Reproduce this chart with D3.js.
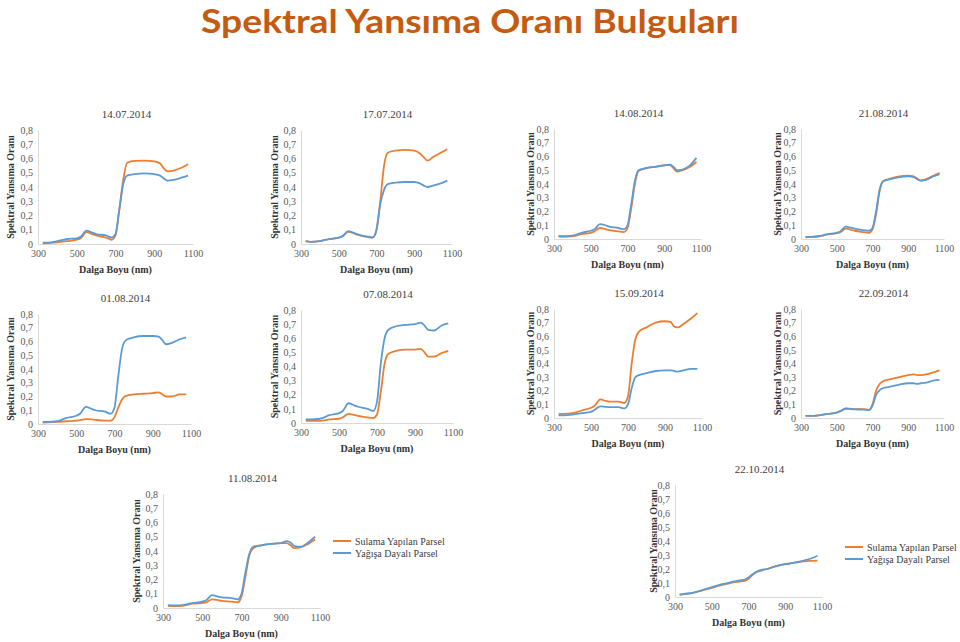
<!DOCTYPE html>
<html>
<head>
<meta charset="utf-8">
<script src="https://cdn.jsdelivr.net/npm/d3@7"></script>
<style>
  html, body { margin: 0; padding: 0; background: #ffffff; }
  svg { display: block; }
  .serif { font-family: "Liberation Serif", "DejaVu Serif", serif; }
</style>
</head>
<body>
<svg id="chart" width="960" height="642"></svg>
<script>
// ---------------- DATA ----------------
const mainTitle = "Spektral Yansıma Oranı Bulguları";
const seriesNames = ["Sulama Yapılan Parsel", "Yağışa Dayalı Parsel"];
const xTitle = "Dalga Boyu (nm)";
const yTitle = "Spektral Yansıma Oranı";
const xTicks = [300, 500, 700, 900, 1100];
const yTicks = [0, 0.1, 0.2, 0.3, 0.4, 0.5, 0.6, 0.7, 0.8];
const wavelengths = [325, 350, 400, 450, 500, 520, 550, 580, 600, 650, 680, 700, 720, 740, 760, 800, 850, 900, 930, 950, 970, 1000, 1040, 1075];

const dates = ["14.07.2014", "17.07.2014", "14.08.2014", "21.08.2014", "01.08.2014", "07.08.2014", "15.09.2014", "22.09.2014", "11.08.2014", "22.10.2014"];

// Sulama Yapılan Parsel (orange)
const sulama_1407 = [0.005,0.006,0.012,0.02,0.03,0.04,0.083,0.07,0.06,0.045,0.03,0.06,0.25,0.45,0.57,0.583,0.585,0.58,0.565,0.53,0.51,0.515,0.535,0.56];
const sulama_1707 = [0.02,0.015,0.02,0.035,0.045,0.055,0.085,0.075,0.065,0.05,0.045,0.1,0.3,0.55,0.64,0.655,0.66,0.655,0.635,0.61,0.585,0.61,0.64,0.665];
const sulama_1408 = [0.02,0.018,0.02,0.035,0.045,0.055,0.08,0.072,0.065,0.055,0.05,0.08,0.22,0.4,0.495,0.515,0.525,0.535,0.54,0.515,0.49,0.5,0.525,0.56];
const sulama_2108 = [0.012,0.013,0.02,0.033,0.042,0.05,0.075,0.067,0.06,0.05,0.045,0.07,0.18,0.35,0.42,0.44,0.455,0.46,0.455,0.44,0.425,0.435,0.46,0.48];
const sulama_0108 = [0.01,0.012,0.015,0.02,0.025,0.028,0.036,0.033,0.03,0.025,0.025,0.05,0.12,0.18,0.205,0.215,0.22,0.225,0.23,0.215,0.2,0.2,0.215,0.215];
const sulama_0708 = [0.015,0.015,0.015,0.025,0.03,0.04,0.065,0.057,0.05,0.04,0.035,0.06,0.22,0.42,0.49,0.51,0.52,0.52,0.525,0.5,0.47,0.47,0.495,0.51];
const sulama_1509 = [0.03,0.03,0.035,0.055,0.075,0.09,0.137,0.125,0.12,0.12,0.11,0.16,0.4,0.58,0.635,0.665,0.7,0.71,0.705,0.67,0.665,0.69,0.73,0.77];
const sulama_2209 = [0.015,0.015,0.02,0.03,0.04,0.05,0.07,0.067,0.065,0.065,0.06,0.1,0.2,0.25,0.27,0.285,0.3,0.315,0.32,0.315,0.315,0.32,0.335,0.35];
const sulama_1108 = [0.015,0.013,0.015,0.03,0.035,0.04,0.06,0.055,0.05,0.045,0.04,0.08,0.22,0.37,0.42,0.44,0.45,0.455,0.455,0.44,0.42,0.425,0.45,0.48];
const sulama_2210 = [0.015,0.02,0.03,0.048,0.065,0.073,0.085,0.093,0.1,0.11,0.115,0.13,0.155,0.175,0.185,0.2,0.22,0.235,0.24,0.245,0.25,0.255,0.258,0.26];

// Yağışa Dayalı Parsel (blue)
const yagis_1407 = [0.01,0.01,0.02,0.035,0.04,0.05,0.094,0.08,0.07,0.06,0.045,0.07,0.24,0.42,0.48,0.49,0.495,0.49,0.48,0.46,0.445,0.45,0.465,0.48];
const yagis_1707 = [0.02,0.015,0.02,0.035,0.045,0.055,0.09,0.078,0.068,0.052,0.047,0.1,0.28,0.38,0.42,0.43,0.435,0.435,0.425,0.41,0.4,0.41,0.425,0.445];
const yagis_1408 = [0.02,0.02,0.025,0.045,0.06,0.07,0.108,0.1,0.09,0.08,0.07,0.1,0.25,0.42,0.5,0.515,0.525,0.535,0.54,0.525,0.5,0.505,0.535,0.59];
const yagis_2108 = [0.015,0.015,0.02,0.035,0.045,0.055,0.09,0.082,0.075,0.065,0.06,0.08,0.2,0.36,0.42,0.435,0.45,0.455,0.45,0.435,0.425,0.43,0.455,0.47];
const yagis_0108 = [0.015,0.015,0.02,0.045,0.06,0.075,0.125,0.11,0.1,0.09,0.075,0.12,0.35,0.55,0.61,0.63,0.64,0.64,0.635,0.61,0.58,0.59,0.615,0.63];
const yagis_0708 = [0.025,0.025,0.03,0.055,0.07,0.085,0.14,0.125,0.115,0.1,0.085,0.15,0.42,0.6,0.66,0.685,0.695,0.7,0.71,0.69,0.66,0.655,0.69,0.705];
const yagis_1509 = [0.02,0.02,0.025,0.035,0.045,0.06,0.086,0.082,0.08,0.08,0.07,0.1,0.22,0.3,0.315,0.33,0.345,0.35,0.35,0.345,0.34,0.35,0.36,0.36];
const yagis_2209 = [0.015,0.015,0.02,0.03,0.04,0.05,0.068,0.065,0.063,0.062,0.058,0.09,0.17,0.205,0.22,0.23,0.245,0.255,0.255,0.25,0.255,0.26,0.275,0.28];
const yagis_1108 = [0.02,0.018,0.02,0.035,0.045,0.055,0.09,0.08,0.075,0.07,0.06,0.1,0.25,0.38,0.43,0.44,0.45,0.455,0.47,0.46,0.435,0.43,0.46,0.5];
const yagis_2210 = [0.017,0.022,0.032,0.05,0.07,0.078,0.09,0.098,0.105,0.118,0.125,0.14,0.16,0.178,0.19,0.2,0.22,0.235,0.24,0.245,0.25,0.26,0.275,0.295];

const sulamaSeries = [sulama_1407, sulama_1707, sulama_1408, sulama_2108, sulama_0108, sulama_0708, sulama_1509, sulama_2209, sulama_1108, sulama_2210];
const yagisSeries  = [yagis_1407, yagis_1707, yagis_1408, yagis_2108, yagis_0108, yagis_0708, yagis_1509, yagis_2209, yagis_1108, yagis_2210];

// ---------------- LAYOUT ----------------
const colors = ["#ED7D31", "#5B9BD5"];
const panels = [
  {left: 38,  right: 193, bottom: 244, top: 130, yt: 28},
  {left: 301, right: 452, bottom: 244, top: 130, yt: 27},
  {left: 554, right: 701, bottom: 239, top: 129, yt: 24},
  {left: 801, right: 944, bottom: 239, top: 129, yt: 24},
  {left: 38,  right: 191, bottom: 424, top: 314, yt: 28},
  {left: 301, right: 453, bottom: 423, top: 310, yt: 27},
  {left: 554, right: 702, bottom: 418, top: 309, yt: 24},
  {left: 801, right: 944, bottom: 418, top: 309, yt: 24},
  {left: 163, right: 320, bottom: 608, top: 494, yt: 27, legend: {x: 333, y: 541}},
  {left: 675, right: 822, bottom: 597, top: 485, yt: 22, legend: {x: 845, y: 547}}
];

const locale = d3.formatLocale({decimal: ",", thousands: ".", grouping: [3], currency: ["", ""]});
const yFmt = d => d === 0 ? "0" : locale.format(".1f")(d);

const svg = d3.select("#chart");

svg.append("text")
  .attr("x", 470).attr("y", 33)
  .attr("text-anchor", "middle")
  .style("font-family", "Lato, 'Open Sans', sans-serif")
  .attr("font-weight", "bold")
  .attr("font-size", 33)
  .attr("fill", "#C55A11")
  .attr("textLength", 538)
  .attr("lengthAdjust", "spacingAndGlyphs")
  .text(mainTitle);

panels.forEach((p, i) => {
  const x = d3.scaleLinear().domain([300, 1100]).range([p.left, p.right]);
  const y = d3.scaleLinear().domain([0, 0.8]).range([p.bottom, p.top]);
  const g = svg.append("g").attr("class", "serif");

  // axes
  const ya = g.append("g").attr("transform", `translate(${p.left},0)`)
    .call(d3.axisLeft(y).tickValues(yTicks).tickFormat(yFmt).tickSize(0).tickPadding(5));
  const xa = g.append("g").attr("transform", `translate(0,${p.bottom})`)
    .call(d3.axisBottom(x).tickValues(xTicks).tickFormat(d3.format("d")).tickSize(0).tickPadding(6));
  [ya, xa].forEach(a => {
    a.attr("font-family", null);
    a.select(".domain").attr("stroke", "#D9D9D9").attr("stroke-width", 1);
    a.selectAll("text").attr("class", "serif").attr("font-size", 10).attr("fill", "#595959");
  });

  // title
  g.append("text").attr("class", "serif")
    .attr("x", (p.left + p.right) / 2 + 11).attr("y", p.top - 12)
    .attr("text-anchor", "middle")
    .attr("font-size", 11).attr("fill", "#404040")
    .text(dates[i]);

  // x title
  g.append("text").attr("class", "serif")
    .attr("x", (p.left + p.right) / 2).attr("y", p.bottom + 29)
    .attr("text-anchor", "middle")
    .attr("font-size", 10).attr("font-weight", "bold").attr("fill", "#333")
    .text(xTitle);

  // y title
  g.append("text").attr("class", "serif")
    .attr("transform", `translate(${p.left - p.yt},${(p.top + p.bottom) / 2}) rotate(-90)`)
    .attr("text-anchor", "middle").attr("dy", "0.35em")
    .attr("font-size", 10).attr("font-weight", "bold").attr("fill", "#333")
    .text(yTitle);

  const line = d3.line()
    .x((d, k) => x(wavelengths[k]))
    .y(d => y(d))
    .curve(d3.curveMonotoneX);

  [sulamaSeries[i], yagisSeries[i]].forEach((vals, s) => {
    g.append("path")
      .datum(vals)
      .attr("d", line)
      .attr("fill", "none")
      .attr("stroke", colors[s])
      .attr("stroke-width", 1.8)
      .attr("stroke-linejoin", "round");
  });

  if (p.legend) {
    seriesNames.forEach((name, s) => {
      const ly = p.legend.y + s * 12;
      g.append("line")
        .attr("x1", p.legend.x).attr("x2", p.legend.x + 18)
        .attr("y1", ly).attr("y2", ly)
        .attr("stroke", colors[s]).attr("stroke-width", 2);
      g.append("text").attr("class", "serif")
        .attr("x", p.legend.x + 22).attr("y", ly).attr("dy", "0.35em")
        .attr("font-size", 10).attr("fill", "#404040")
        .text(name);
    });
  }
});
</script>
</body>
</html>
